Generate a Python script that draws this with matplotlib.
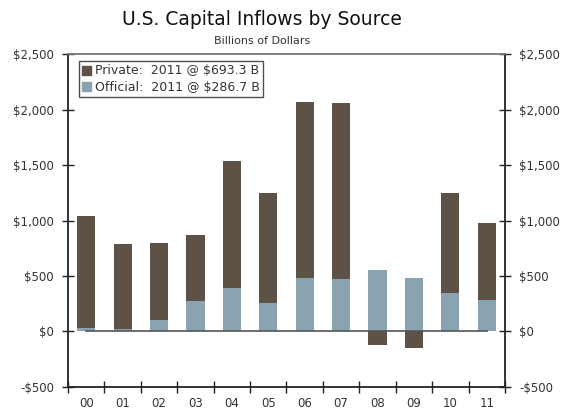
import numpy as np
from matplotlib import pyplot as plt
from matplotlib.patches import Patch

years = ['00', '01', '02', '03', '04', '05', '06', '07', '08', '09', '10', '11']
official = [36, 27, 108, 279, 396, 261, 486, 477, 558, 486, 351, 286.7]
private = [1004, 757, 685, 586, 1144, 991, 1586, 1586, -123, -150, 901, 693.3]
y_ticks = [-500, 0, 500, 1000, 1500, 2000, 2500]

brown = '#5e5246'
blue = '#8aa3b1'
text_col = '#333333'

fig = plt.figure(figsize=(5.69, 4.11), dpi=100)
ax = fig.add_axes([0.1195, 0.0584, 0.768, 0.8102])

x = np.arange(len(years))
official = np.array(official)
private = np.array(private)
# positive private sits on top of official, negative hangs below zero
bottoms = np.where(private > 0, official, 0)
ax.bar(x, official, width=0.5, color=blue, zorder=2)
ax.bar(x, private, bottom=bottoms, width=0.5, color=brown, zorder=2)

# zero line runs from the first to the last category centre
ax.plot([x[0], x[-1]], [0, 0], color='#555555', lw=1.2, zorder=3)

ax.set_xlim(-0.5, len(years) - 0.5)
ax.set_ylim(-500, 2500)
ax.set_yticks(y_ticks)
ax.set_yticklabels([f'-${-v:,}' if v < 0 else f'${v:,}' for v in y_ticks])
ax.set_xticks(x)
ax.set_xticklabels(years)
ax.set_xticks(np.arange(-0.5, len(years)), minor=True)
ax.tick_params(axis='x', which='major', length=0, pad=7, labelsize=8.5, labelcolor=text_col)
ax.tick_params(axis='x', which='minor', direction='inout', length=8, width=1, color='#222222')
ax.tick_params(axis='y', direction='inout', length=8, width=1, color='#222222',
               labelsize=8.5, labelcolor=text_col, left=True, right=True,
               labelleft=True, labelright=True, pad=6)

for side in ['left', 'right', 'bottom']:
    ax.spines[side].set_color('#222222')
    ax.spines[side].set_linewidth(1.3)
ax.spines['top'].set_color('#777777')
ax.spines['top'].set_linewidth(1.3)

handles = [Patch(color=brown, label='Private:  2011 @ $693.3 B'),
           Patch(color=blue, label='Official:  2011 @ $286.7 B')]
leg = ax.legend(handles=handles, loc='upper left', bbox_to_anchor=(0.025, 0.978),
                frameon=True, fancybox=False, edgecolor='#222222', fontsize=9,
                handlelength=0.75, handleheight=0.75, handletextpad=0.25,
                borderpad=0.25, labelspacing=0.25, borderaxespad=0)
leg.get_frame().set_linewidth(1.0)
for t in leg.get_texts():
    t.set_color(text_col)

fig.text(0.46, 0.952, 'U.S. Capital Inflows by Source', ha='center', va='center',
         fontsize=13.5, color='#111111')
fig.text(0.46, 0.9, 'Billions of Dollars', ha='center', va='center',
         fontsize=8, color=text_col)

fig.savefig('out.png', dpi=100)
